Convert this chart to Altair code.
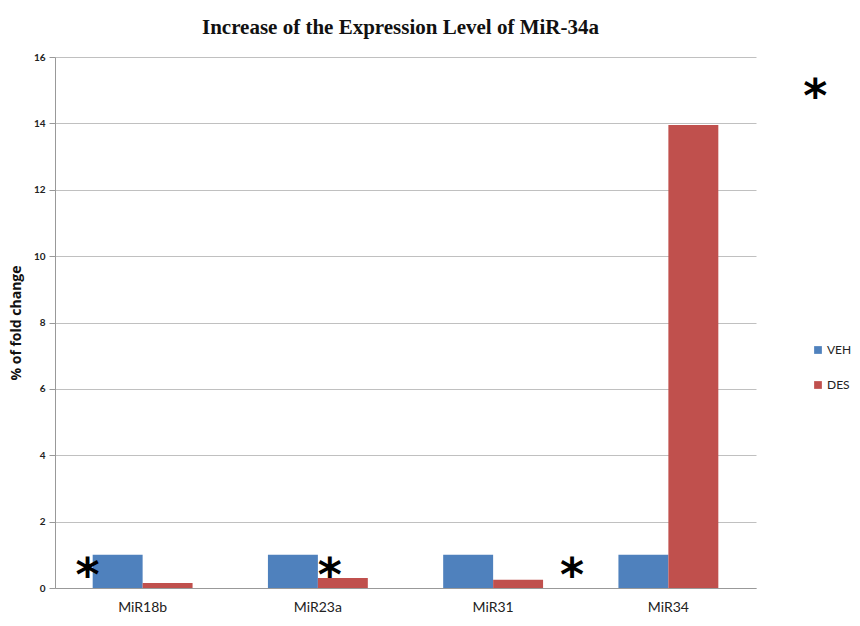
import altair as alt
import pandas as pd

categories = ["MiR18b", "MiR23a", "MiR31", "MiR34"]
series = ["VEH", "DES"]
veh_values = [1.0, 1.0, 1.0, 1.0]
des_values = [0.15, 0.3, 0.25, 13.95]
colors = ["#4F81BD", "#C0504D"]

rows = []
for c, v, d in zip(categories, veh_values, des_values):
    rows.append({"miR": c, "group": "VEH", "value": v})
    rows.append({"miR": c, "group": "DES", "value": d})
df = pd.DataFrame(rows)

# significance asterisks (anchored to a bar, shifted sideways)
star_cat = ["MiR18b", "MiR23a", "MiR31", "MiR34"]
star_grp = ["VEH", "DES", "DES", "DES"]
star_y = [0.6, 0.6, 0.6, 15.05]
star_dx = [-30, -13, 54, 122]
stars = pd.DataFrame({"miR": star_cat, "group": star_grp, "value": star_y, "dx": star_dx})

xenc = alt.X("miR:N", sort=categories, title=None,
             scale=alt.Scale(paddingInner=0.43, paddingOuter=0.215),
             axis=alt.Axis(labelAngle=0, labelFont="Lato", labelFontSize=14,
                           labelColor="#222", ticks=False, domainColor="#999", labelPadding=12))
xoff = alt.XOffset("group:N", sort=series)

bars = alt.Chart(df).mark_bar().encode(
    x=xenc,
    xOffset=xoff,
    y=alt.Y("value:Q", scale=alt.Scale(domain=[0, 16]), title="% of fold change",
            axis=alt.Axis(values=list(range(0, 17, 2)), labelFont="Lato",
                          labelFontSize=10, labelFontWeight="bold", labelColor="#222",
                          tickColor="#999", tickSize=6, domainColor="#999", labelPadding=4,
                          gridColor="#c0c0c0", titleFont="Open Sans", titleFontSize=14,
                          titleFontWeight="bold", titleColor="#111", titlePadding=10)),
    color=alt.Color("group:N", sort=series, scale=alt.Scale(domain=series, range=colors),
                    legend=alt.Legend(title=None, orient="none", legendX=757, legendY=287,
                                      symbolType="square", symbolSize=60, symbolStrokeWidth=0,
                                      labelFont="Lato", labelFontSize=12,
                                      labelColor="#222", rowPadding=23, labelOffset=3)),
)

texts = []
for i in range(len(star_cat)):
    texts.append(
        alt.Chart(stars.iloc[[i]]).mark_text(text="*", fontSize=46, fontWeight="bold",
                                               font="DejaVu Sans", baseline="middle",
                                               dx=int(star_dx[i]), dy=9, color="black")
        .encode(x=alt.X("miR:N", sort=categories), xOffset=alt.XOffset("group:N", sort=series),
                y="value:Q")
    )

chart = alt.layer(bars, *texts).properties(
    width=701, height=531,
    title=alt.Title("Increase  of the Expression  Level of MiR-34a", font="Liberation Serif",
                    fontSize=21, fontWeight="bold", color="#111", offset=14, dx=-5),
    autosize=alt.AutoSizeParams(type="none"),
    padding={"left": 47, "top": 49, "right": 96, "bottom": 28},
).configure_view(stroke=None).configure_axisX(grid=False)

chart.save("out.html", embed_options={"renderer": "svg", "actions": False})
